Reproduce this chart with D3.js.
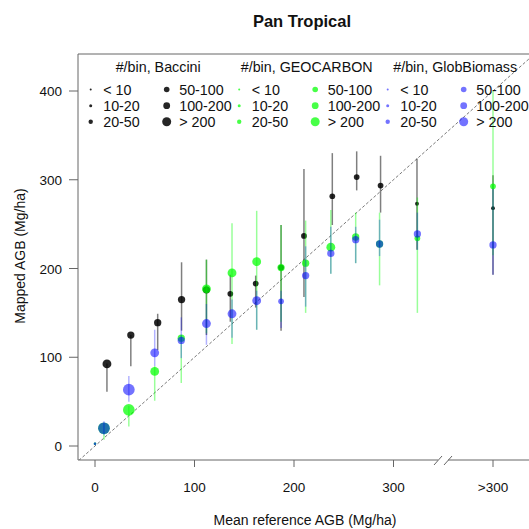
<!DOCTYPE html>
<html>
  <meta charset="utf-8">
  <style>
  body { margin: 0; background: #fff; }
  text { font-family: "Liberation Sans", Arial, sans-serif; fill: #111; }
  </style>
  <head>
    <script src="https://d3js.org/d3.v7.min.js"></script>
  </head>
  <body>
    <script>
      // x value 400 stands for the ">300" bin
      var xTicks = [0, 100, 200, 300, 400],
          xTickLabels = ["0", "100", "200", "300", ">300"],
          yTicks = [0, 100, 200, 300, 400];

      var sizeLabels = ["< 10", "10-20", "20-50", "50-100", "100-200", "> 200"];
      var productNames = ["#/bin, Baccini", "#/bin, GEOCARBON", "#/bin, GlobBiomass"];

      // Baccini
      var refB = [12, 36, 63, 87, 112, 136, 161.5, 187, 210, 238.5, 263, 287, 323.6, 400],
          aggB = [92.5, 125, 139, 165, 176, 171.5, 183, 201, 236.7, 281.4, 303, 293.5, 273, 268],
          loB  = [61, 90, 108, 130, 125, 140, 156, 130, 168, 249, 288, 263, 221, 193],
          hiB  = [93, 125, 149, 207, 210, 193, 192, 249, 312, 330, 332, 327, 324, 305],
          szB  = [4, 3, 3, 3, 3, 2, 2, 2, 2, 2, 2, 2, 1, 1];

      // GEOCARBON
      var refG = [0, 9, 34, 60, 86.7, 112, 137.7, 162.5, 187, 211.7, 237, 262, 286, 324, 400],
          aggG = [2.5, 20, 40.6, 84, 121.5, 177, 195, 207.7, 201, 206, 224, 235.5, 227.6, 234, 292.6],
          loG  = [1, 7, 22, 51, 71, 127, 115, 131, 140, 150, 194, 206, 181, 150, 215],
          hiG  = [4, 25, 45, 90, 125, 210, 251, 265, 249, 254, 266, 263, 263, 280, 400],
          szG  = [0, 5, 5, 4, 3, 4, 4, 4, 3, 3, 4, 3, 3, 2, 2];

      // GlobBiomass
      var refM = [0, 9, 34, 60, 86.7, 112, 137.7, 162.5, 187, 211.7, 237, 262, 286, 324, 400],
          aggM = [2.5, 20, 63.5, 105, 119, 138, 149, 163.7, 163, 192, 217, 232.5, 227.6, 239, 226.5],
          loM  = [1, 12, 50, 90, 99, 114, 122, 131, 133, 157, 194, 206, 214, 221, 193],
          hiM  = [4, 28, 79, 131, 145, 160, 165, 175, 175, 225, 247, 247, 255, 263, 290],
          szM  = [0, 5, 5, 4, 3, 4, 4, 4, 2, 3, 3, 3, 3, 3, 3];

      var width = 529, height = 529;
      var boxL = 78, boxT = 54, boxB = 460, boxR = 545;

      var x = d3.scaleLinear().domain([0, 400]).range([95, 493]);
      var y = d3.scaleLinear().domain([0, 400]).range([446, 91]);
      var legendR = [1, 1.5, 2.2, 2.8, 3.4, 4.5];
      var plotR = legendR.map(function(r) { return r * 1.3; });

      var products = [
        {ref: refB, agg: aggB, lo: loB, hi: hiB, sz: szB, fill: "rgba(0,0,0,0.85)", bar: "rgba(0,0,0,0.5)"},
        {ref: refG, agg: aggG, lo: loG, hi: hiG, sz: szG, fill: "rgba(0,255,0,0.72)", bar: "rgba(0,255,0,0.4)"},
        {ref: refM, agg: aggM, lo: loM, hi: hiM, sz: szM, fill: "rgba(0,0,255,0.55)", bar: "rgba(0,0,255,0.3)"}
      ];

      var svg = d3.select("body").append("svg")
          .attr("width", width)
          .attr("height", height);

      svg.append("defs").append("clipPath").attr("id", "clip")
        .append("rect").attr("x", boxL).attr("y", boxT)
        .attr("width", boxR - boxL).attr("height", boxB - boxT);

      svg.append("text")
          .attr("x", 302).attr("y", 27)
          .attr("text-anchor", "middle")
          .style("font-size", "16.5px").style("font-weight", "bold")
          .text("Pan Tropical");

      var plot = svg.append("g").attr("clip-path", "url(#clip)");

      // 1:1 line
      plot.append("line")
          .attr("x1", x(-20)).attr("y1", y(-20))
          .attr("x2", x(460)).attr("y2", y(460))
          .attr("stroke", "#555").attr("stroke-width", 0.8)
          .attr("stroke-dasharray", "3,2");

      products.forEach(function(p) {
        var g = plot.append("g");
        g.selectAll("line").data(p.ref).enter().append("line")
            .attr("x1", function(d) { return x(d); })
            .attr("x2", function(d) { return x(d); })
            .attr("y1", function(d, i) { return y(p.lo[i]); })
            .attr("y2", function(d, i) { return y(p.hi[i]); })
            .attr("stroke", p.bar).attr("stroke-width", 1.5);
        g.selectAll("circle").data(p.ref).enter().append("circle")
            .attr("cx", function(d) { return x(d); })
            .attr("cy", function(d, i) { return y(p.agg[i]); })
            .attr("r", function(d, i) { return plotR[p.sz[i]]; })
            .attr("fill", p.fill);
      });

      // box, bottom edge broken between 300 and >300
      var axisColor = "#666";
      var frame = svg.append("g").attr("stroke", axisColor).attr("stroke-width", 1).attr("fill", "none");
      frame.append("path").attr("d", "M" + boxL + "," + boxB + "V" + boxT + "H" + boxR);
      frame.append("line").attr("x1", boxL).attr("x2", 438).attr("y1", boxB).attr("y2", boxB);
      frame.append("line").attr("x1", 448).attr("x2", boxR).attr("y1", boxB).attr("y2", boxB);
      frame.append("line").attr("x1", 434).attr("y1", 465).attr("x2", 442).attr("y2", 456);
      frame.append("line").attr("x1", 444).attr("y1", 465).attr("x2", 452).attr("y2", 456);

      // x axis
      var xa = svg.append("g");
      xTicks.forEach(function(t, i) {
        xa.append("line").attr("x1", x(t)).attr("x2", x(t))
          .attr("y1", boxB).attr("y2", boxB + 7)
          .attr("stroke", axisColor);
        xa.append("text").attr("x", x(t)).attr("y", 492)
          .attr("text-anchor", "middle").style("font-size", "13.5px")
          .text(xTickLabels[i]);
      });
      svg.append("text").attr("x", 305).attr("y", 525)
          .attr("text-anchor", "middle").style("font-size", "14px")
          .text("Mean reference AGB (Mg/ha)");

      // y axis
      var ya = svg.append("g");
      yTicks.forEach(function(t) {
        ya.append("line").attr("x1", boxL - 9).attr("x2", boxL)
          .attr("y1", y(t)).attr("y2", y(t))
          .attr("stroke", axisColor);
        ya.append("text").attr("x", 62).attr("y", y(t) + 5)
          .attr("text-anchor", "end").style("font-size", "13.5px")
          .text(t);
      });
      svg.append("text")
          .attr("transform", "translate(25,256) rotate(-90)")
          .attr("text-anchor", "middle").style("font-size", "14px")
          .text("Mapped AGB (Mg/ha)");

      // legend
      var leg = svg.append("g");
      var rowY = [89.5, 105.7, 121.7];
      products.forEach(function(p, k) {
        var gx = 90.7 + k * 148.5;
        leg.append("text").attr("x", gx + 67.5).attr("y", 72)
          .attr("text-anchor", "middle").style("font-size", "14.3px")
          .text(productNames[k]);
        sizeLabels.forEach(function(lab, j) {
          var cx = gx + (j < 3 ? 0 : 76), cy = rowY[j % 3];
          leg.append("circle").attr("cx", cx).attr("cy", cy)
            .attr("r", legendR[j]).attr("fill", p.fill);
          leg.append("text").attr("x", cx + 12.5).attr("y", cy + 5)
            .style("font-size", "14.3px").text(lab);
        });
      });
    </script>
  </body>
</html>
